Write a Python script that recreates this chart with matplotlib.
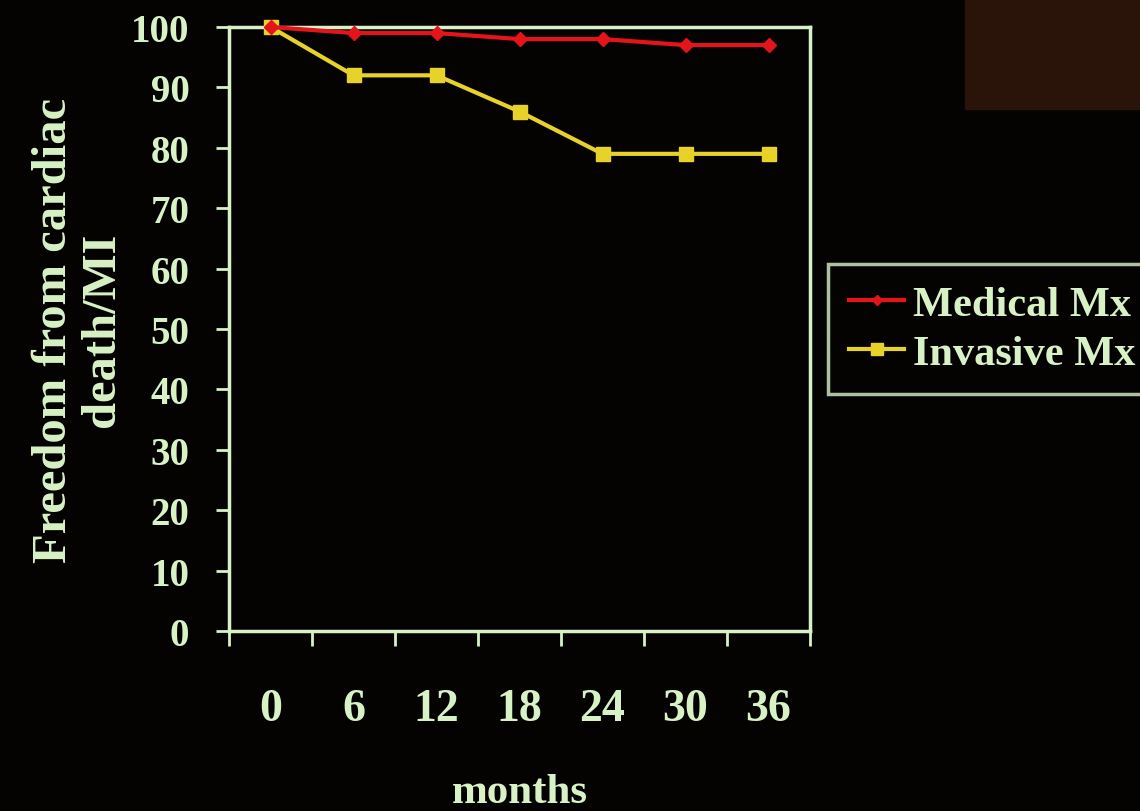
import matplotlib.pyplot as plt
import matplotlib.patches as patches
import numpy as np

months = ['0', '6', '12', '18', '24', '30', '36']
medical = [100, 99, 99, 98, 98, 97, 97]
invasive = [100, 92, 92, 86, 79, 79, 79]
yticks = list(range(0, 101, 10))

fg = '#d8f2c6'
red = '#e4141a'
yellow = '#e6d228'
bg = '#050302'

plt.rcParams['font.family'] = ['Liberation Serif', 'DejaVu Serif']
plt.rcParams['font.weight'] = 'bold'

fig = plt.figure(figsize=(11.4, 8.12), dpi=100, facecolor=bg)
# brownish patch in the photo, top right corner
fig.patches.append(patches.Rectangle((965 / 1140, 1 - 110 / 812), 175 / 1140, 110 / 812,
                                     transform=fig.transFigure, color='#2a1309', zorder=0))

ax = fig.add_axes([229 / 1140, 1 - 632 / 812, 581 / 1140, 604 / 812])
ax.set_facecolor(bg)

x = np.arange(len(months))
ax.plot(x, medical, color=red, lw=3, marker='D', ms=7, label='Medical Mx', clip_on=False, zorder=4)
ax.plot(x, invasive, color=yellow, lw=3, marker='s', ms=10, label='Invasive Mx', clip_on=False, zorder=3)

ax.set_xlim(-0.5, len(months) - 0.5)
ax.set_ylim(0, 100)
ax.set_yticks(yticks)
ax.set_xticks(x)
ax.set_xticklabels(months)
ax.set_xticks(np.arange(-0.5, len(months)), minor=True)

for s in ax.spines.values():
    s.set_color(fg)
    s.set_linewidth(2.5)

ax.tick_params(axis='y', colors=fg, labelsize=28, length=9.5, width=2, pad=19)
ax.tick_params(axis='x', which='major', colors=fg, labelsize=33, length=0, pad=41)
ax.tick_params(axis='x', which='minor', colors=fg, length=11, width=2)

ax.set_ylabel('Freedom from cardiac\ndeath/MI', color=fg, fontsize=35, fontweight='bold',
              labelpad=5, linespacing=1.12)
ax.set_xlabel('months', color=fg, fontsize=31, fontweight='bold', labelpad=31)

leg = ax.legend(loc='center left', bbox_to_anchor=(828 / 1140, 1 - 330 / 812),
                bbox_transform=fig.transFigure, frameon=True, fontsize=30.5,
                labelcolor=fg, handlelength=1.3, handletextpad=0.2, markerscale=0.8,
                borderpad=0.5, labelspacing=0.25, borderaxespad=0, fancybox=False)
leg.get_frame().set_facecolor(bg)
leg.get_frame().set_edgecolor(fg)
leg.get_frame().set_linewidth(2.5)

fig.savefig('out.png', dpi=100, facecolor=fig.get_facecolor())
